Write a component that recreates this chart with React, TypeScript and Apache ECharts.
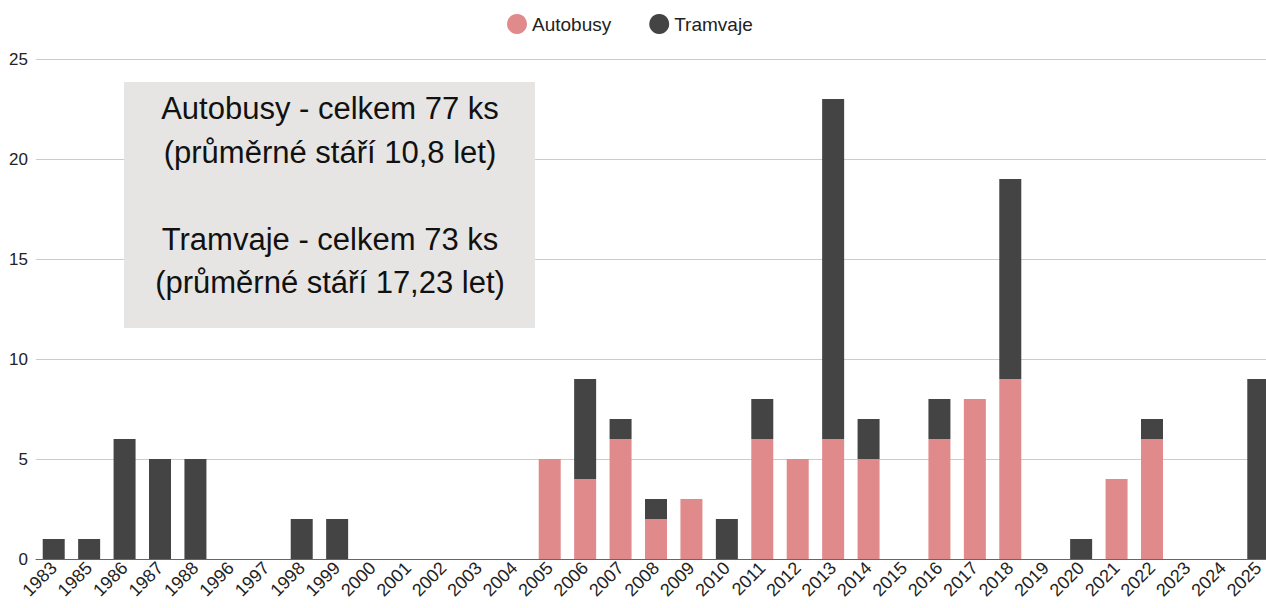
import React, { useEffect, useRef } from "react";
import * as echarts from "echarts";

const years = ["1983","1985","1986","1987","1988","1996","1997","1998","1999","2000","2001","2002","2003","2004","2005","2006","2007","2008","2009","2010","2011","2012","2013","2014","2015","2016","2017","2018","2019","2020","2021","2022","2023","2024","2025"];
const autobusy = [0,0,0,0,0,0,0,0,0,0,0,0,0,0,5,4,6,2,3,0,6,5,6,5,0,6,8,9,0,0,4,6,0,0,0];
const tramvaje = [1,1,6,5,5,0,0,2,2,0,0,0,0,0,0,5,1,1,0,2,2,0,17,2,0,2,0,10,0,1,0,1,0,0,9];
const infoLines = ["Autobusy - celkem 77 ks", "(průměrné stáří 10,8 let)", "", "Tramvaje - celkem 73 ks", "(průměrné stáří 17,23 let)"];

export default function App() {
  const ref = useRef<HTMLDivElement>(null);
  useEffect(() => {
    const chart = echarts.init(ref.current!, null, { renderer: "svg" });
    chart.setOption({
      animation: false,
      textStyle: { fontFamily: "Liberation Sans, Arial, sans-serif" },
      legend: {
        top: 9,
        left: 502,
        icon: "circle",
        itemWidth: 20,
        itemHeight: 20,
        itemGap: 38,
        textStyle: { fontSize: 19, color: "#222" },
        data: ["Autobusy", "Tramvaje"],
      },
      grid: { left: 36, right: 0, top: 59, bottom: 49, containLabel: false },
      xAxis: {
        type: "category",
        data: years,
        axisLine: { lineStyle: { color: "#666" } },
        axisTick: { show: false },
        axisLabel: { rotate: 45, fontSize: 18, color: "#222", interval: 0, margin: 6 },
      },
      yAxis: {
        type: "value",
        min: 0,
        max: 25,
        interval: 5,
        axisLabel: { fontSize: 17, color: "#222", margin: 8 },
        splitLine: { lineStyle: { color: "#cccccc" } },
      },
      series: [
        { name: "Autobusy", type: "bar", stack: "a", data: autobusy, barWidth: 22, itemStyle: { color: "#e08a8c" } },
        { name: "Tramvaje", type: "bar", stack: "a", data: tramvaje, barWidth: 22, itemStyle: { color: "#444444" } },
      ],
      graphic: [
        { type: "rect", left: 124, top: 82, shape: { width: 411, height: 246 }, style: { fill: "#e6e5e3" }, z: 10 },
        {
          type: "text",
          x: 330,
          y: 87,
          z: 11,
          style: {
            text: infoLines.join("\n"),
            fontSize: 31,
            lineHeight: 43.5,
            fill: "#111",
            align: "center",
            verticalAlign: "top",
            fontFamily: "Liberation Sans, Arial, sans-serif",
          },
        },
      ],
    });
    return () => chart.dispose();
  }, []);
  return (
    <div style={{ width: 1266, height: 608, position: "absolute", left: 0, top: 0, overflow: "hidden" }}>
      <div ref={ref} style={{ width: 1276, height: 608 }} />
    </div>
  );
}
